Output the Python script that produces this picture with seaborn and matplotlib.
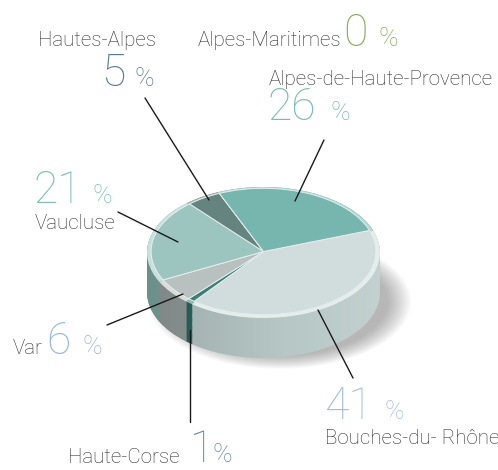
import numpy as np
import seaborn as sns
import matplotlib.pyplot as plt
from matplotlib.colors import to_rgb
from matplotlib.patches import Ellipse, Polygon

# Données (répartition par département)
departements = ["Bouches-du- Rhône", "Haute-Corse", "Var", "Vaucluse",
                "Hautes-Alpes", "Alpes-Maritimes", "Alpes-de-Haute-Provence"]
parts = [41, 1, 6, 21, 5, 0, 26]

couleurs_dessus = ["#d0dddc", "#3f7d77", "#b8c1bf", "#9cc5c0", "#65837f", "#5e7c79", "#76b6af"]
couleurs_cote = ["#b6c7c5", "#2c6560", "#939d9b", "#7ea6a1", "#4f6b68", "#4f6b68", "#5f9a94"]
couleurs_pct = ["#a8bfd9", "#6a8ba3", "#97b6d1", "#7fbcb4", "#5a7b92", "#8aaa62", "#79bbb5"]

# positions des étiquettes (pixels) : nom, nombre, signe %, trait de rappel
pos_nom = [(325, 444), (68, 463), (13, 354), (35, 229), (38, 46), (198, 46), (269, 85)]
pos_nb = [(324, 419), (190, 462), (46, 354), (34, 203), (101, 86), (343, 46), (268, 120)]
pos_pct = [(385, 419), (213, 462), (82, 354), (92, 203), (135, 86), (378, 46), (330, 120)]
traits = [((318, 310), (353, 378)), ((190, 330), (190, 422)), ((183, 294), (107, 325)),
          ((178, 242), (118, 212)), ((209, 200), (145, 98)), None, ((295, 201), (324, 140))]

sns.set_theme(style="white")
plt.rcParams["font.family"] = ["Roboto", "DejaVu Sans"]

W, H = 498, 470
fig = plt.figure(figsize=(W / 100, H / 100), dpi=100)

# géométrie du camembert en pixels
cx, cy, rx, ry = 263.5, 252.5, 116.5, 65.5
prof = 40 / ry
xl, yl = (-1.4, 1.4), (-2.3, 1.1)
ax = fig.add_axes([(cx + xl[0] * rx) / W, 1 - (cy - yl[0] * ry) / H,
                   (xl[1] - xl[0]) * rx / W, (yl[1] - yl[0]) * ry / H])

# ombre douce
for k in range(14):
    ax.add_patch(Ellipse((0.14, -prof - 0.14), 2.25 - k * 0.03, 2.05 - k * 0.03,
                         color="#555555", alpha=0.035, lw=0))

# flancs
n = 45
for i in range(n + 1):
    ax.pie(parts, startangle=19.5, counterclock=False, colors=couleurs_cote,
           center=(0, -prof * (1 - i / n)), radius=1, wedgeprops=dict(linewidth=0))

# dégradé sur le flanc (plus sombre à gauche, plus clair à droite)
t = np.linspace(np.pi, 2 * np.pi, 100)
bord = np.r_[np.c_[np.cos(t), np.sin(t)], np.c_[np.cos(t[::-1]), np.sin(t[::-1]) - prof]]
clip = Polygon(bord, closed=True, transform=ax.transData, fc="none", ec="none")
ax.add_patch(clip)
g = np.linspace(0, 1, 200)
img = np.zeros((2, 200, 4))
img[..., :3] = np.where(g[None, :, None] < 0.6, 0.0, 1.0)
img[..., 3] = np.where(g < 0.6, 0.14 * (0.6 - g) / 0.6, 0.18 * (g - 0.6) / 0.4)[None, :]
im = ax.imshow(img, extent=(-1, 1, -1 - prof, 0), aspect="auto", zorder=2)
im.set_clip_path(clip)

# dessus avec un liseré clair
clair = [tuple(0.55 * np.array(to_rgb(c)) + 0.45) for c in couleurs_dessus]
ax.pie(parts, startangle=19.5, counterclock=False, colors=clair,
       center=(0, 0), radius=1, wedgeprops=dict(linewidth=0, zorder=3))
ax.pie(parts, startangle=19.5, counterclock=False, colors=couleurs_dessus,
       center=(0, 0.015), radius=0.965,
       wedgeprops=dict(linewidth=0.7, edgecolor="#e4eeed", zorder=3))
ax.set_aspect("auto")
ax.set_xlim(*xl)
ax.set_ylim(*yl)
ax.axis("off")

# calque des textes
ax2 = fig.add_axes([0, 0, 1, 1])
ax2.set_xlim(0, W)
ax2.set_ylim(H, 0)
ax2.axis("off")
ax2.patch.set_alpha(0)

for i, nom in enumerate(departements):
    ax2.text(*pos_nom[i], nom, fontsize=14.8, color="#2e2e2e", fontweight="light",
             ha="left", va="baseline")
    ax2.text(*pos_nb[i], str(parts[i]), fontsize=32, color=couleurs_pct[i],
             fontweight="light", ha="left", va="baseline")
    ax2.text(*pos_pct[i], "%", fontsize=19, color=couleurs_pct[i],
             fontweight="light", ha="left", va="baseline")
    if traits[i] is not None:
        (x0, y0), (x1, y1) = traits[i]
        ax2.plot([x0, x1], [y0, y1], color="#1a1a1a", lw=1)

fig.savefig("out.png", dpi=100)
